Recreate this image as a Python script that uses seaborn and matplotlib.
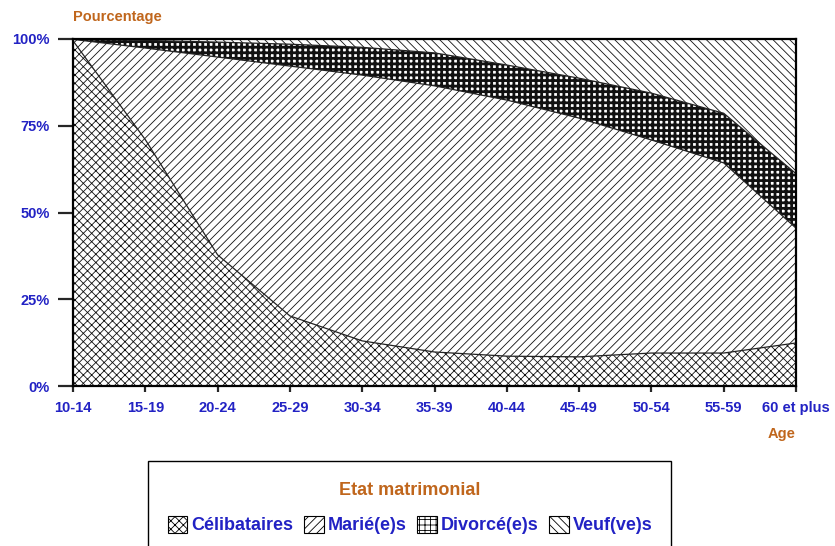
import matplotlib.pyplot as plt
import seaborn as sns
import numpy as np
import pandas as pd
from matplotlib.patches import Patch, Rectangle

ages = ["10-14", "15-19", "20-24", "25-29", "30-34", "35-39",
        "40-44", "45-49", "50-54", "55-59", "60 et plus"]
celibataires = [99.5, 71.0, 37.8, 20.2, 13.0, 9.8, 8.6, 8.4, 9.5, 9.5, 12.4]
maries = [0.4, 26.4, 57.0, 72.0, 76.6, 76.7, 73.8, 68.8, 61.4, 54.8, 33.1]
divorces = [0.1, 2.2, 4.3, 6.3, 8.0, 9.5, 10.1, 11.5, 13.5, 14.3, 15.7]
veufs = [0.0, 0.4, 0.9, 1.5, 2.4, 4.0, 7.5, 11.3, 15.6, 21.4, 38.8]
series = ["Célibataires", "Marié(e)s", "Divorcé(e)s", "Veuf(ve)s"]
hatches = ["xxxx", "////", "+++", "\\\\\\\\"]
hatch_lw = [0.6, 0.6, 2.0, 0.6]

BLUE = "#2222c4"
ORANGE = "#c0661c"

sns.set_style("ticks")
plt.rcParams["font.family"] = ["Liberation Sans", "DejaVu Sans"]
plt.rcParams["font.weight"] = "bold"

df = pd.DataFrame({"age": ages, "Célibataires": celibataires, "Marié(e)s": maries,
                   "Divorcé(e)s": divorces, "Veuf(ve)s": veufs})
df["x"] = np.arange(len(ages))
cum = df[series].cumsum(axis=1)

fig = plt.figure(figsize=(8.35, 5.46), dpi=100)
ax = fig.add_axes([73 / 835, 1 - 386 / 546, 723 / 835, 347 / 546])

lower = np.zeros(len(ages))
for name, h, hlw in zip(series, hatches, hatch_lw):
    upper = cum[name].values
    plt.rcParams["hatch.linewidth"] = hlw
    coll = ax.fill_between(df["x"], lower, upper, facecolor="white",
                           edgecolor="#111111", hatch=h, linewidth=0)
    if hasattr(coll, "set_hatch_linewidth"):
        coll.set_hatch_linewidth(hlw)
    lower = upper

for name in series[:3]:
    sns.lineplot(x=df["x"], y=cum[name], ax=ax, color="#222222", linewidth=0.9)

ax.set_xlim(0, len(ages) - 1)
ax.set_ylim(0, 100)
ax.set_xticks(df["x"])
ax.set_xticklabels(ages)
ax.set_yticks([0, 25, 50, 75, 100])
ax.set_yticklabels(["0%", "25%", "50%", "75%", "100%"])
ax.set_xlabel("")
ax.set_ylabel("")
for s in ax.spines.values():
    s.set_linewidth(1.6)
    s.set_color("black")
ax.tick_params(axis="y", length=10.5, width=1.6, pad=6, labelsize=10.5, labelcolor=BLUE)
ax.tick_params(axis="x", length=4.5, width=1.6, pad=6, labelsize=10.5, labelcolor=BLUE)

fig.text(73 / 835, 1 - 17 / 546, "Pourcentage", color=ORANGE, fontsize=10.5,
         fontweight="bold", ha="left", va="center")
fig.text(796 / 835, 1 - 434 / 546, "Age", color=ORANGE, fontsize=10.5,
         fontweight="bold", ha="right", va="center")

# cadre de la légende, qui déborde en bas
fig.patches.append(Rectangle((148 / 835, -0.05), 523 / 835, 0.05 + 85 / 546,
                             transform=fig.transFigure, facecolor="white",
                             edgecolor="black", linewidth=1.0, zorder=0))

handles = []
for name, h, hlw in zip(series, hatches, hatch_lw):
    plt.rcParams["hatch.linewidth"] = hlw
    p = Patch(facecolor="white", edgecolor="black", hatch=h, linewidth=0.8, label=name)
    if hasattr(p, "set_hatch_linewidth"):
        p.set_hatch_linewidth(hlw)
    handles.append(p)

leg = fig.legend(handles=handles, loc="upper center", ncol=4,
                 bbox_to_anchor=(410 / 835, 1 - 482 / 546),
                 title="Etat matrimonial", fontsize=13,
                 title_fontsize=13, frameon=False,
                 handlelength=1.1, handleheight=1.1, handletextpad=0.2,
                 columnspacing=0.6, borderpad=0, borderaxespad=0,
                 labelspacing=0.3)
leg._legend_box.sep = 12
leg.get_title().set_color(ORANGE)
leg.get_title().set_fontweight("bold")
for t in leg.get_texts():
    t.set_color(BLUE)
    t.set_fontweight("bold")

fig.savefig("out.png", dpi=100)
